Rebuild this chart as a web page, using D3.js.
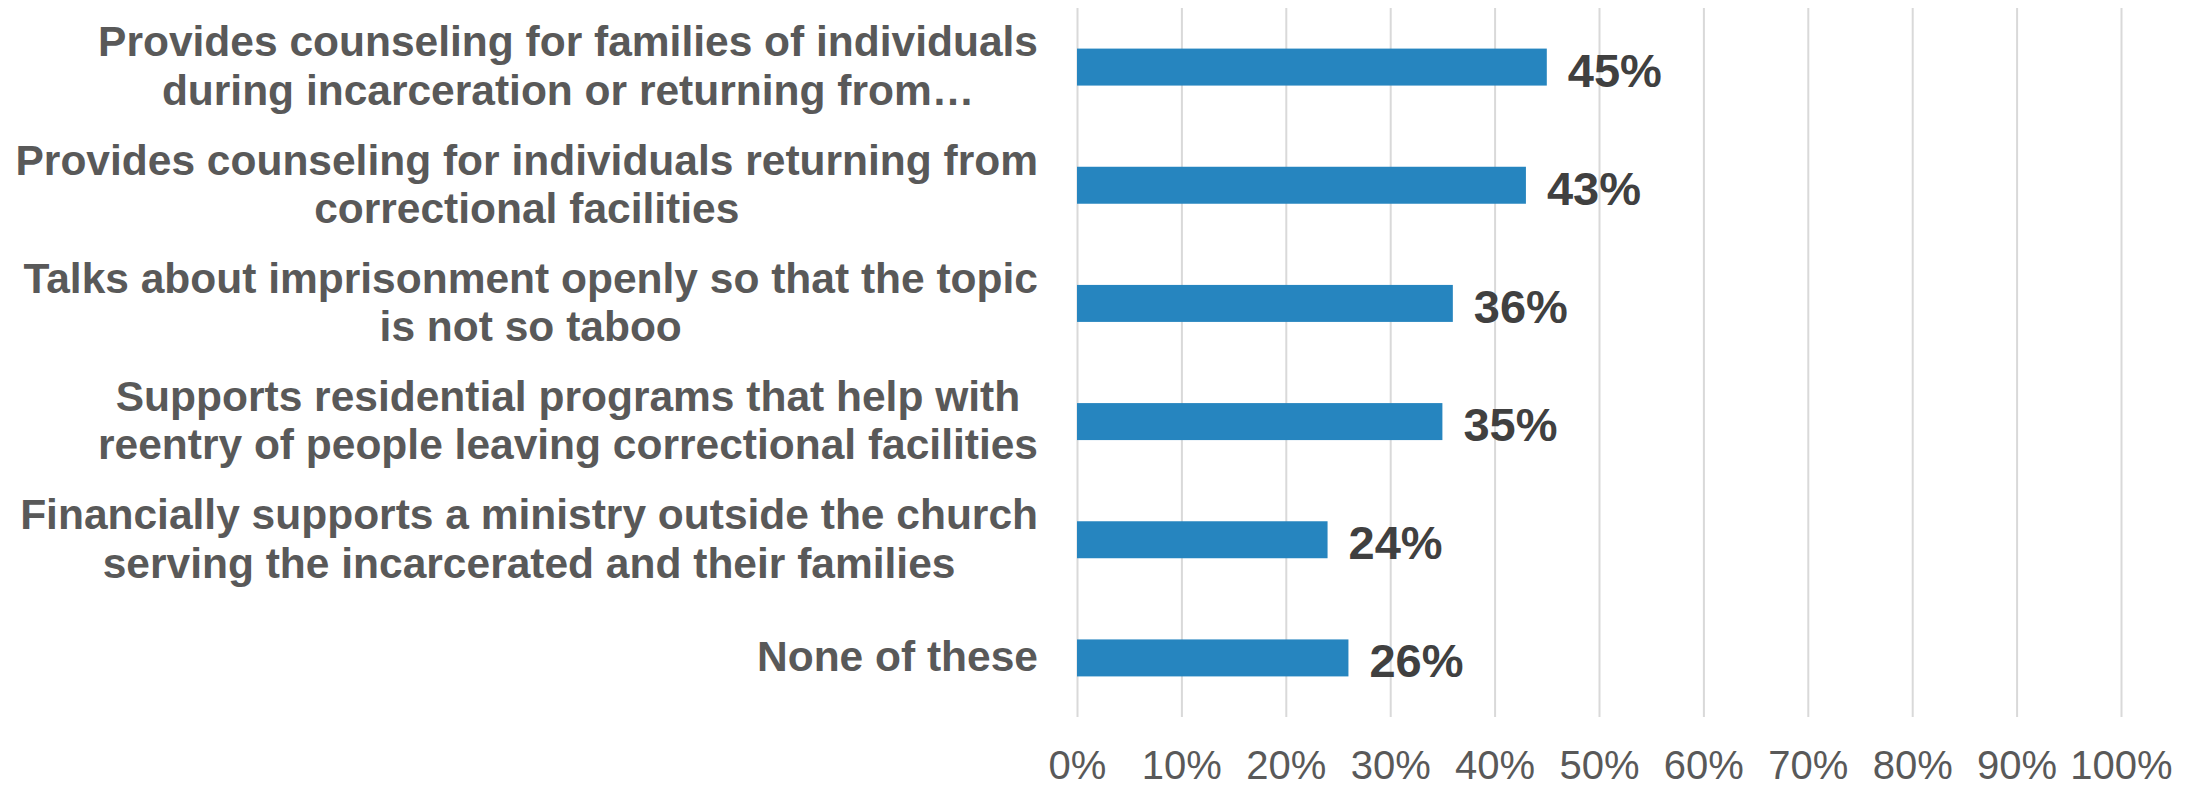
<!DOCTYPE html>
<html>
<head>
<meta charset="utf-8">
<script src="https://cdn.jsdelivr.net/npm/d3@7"></script>
<style>
  html, body { margin: 0; padding: 0; background: #ffffff; }
  svg { display: block; font-family: "Liberation Sans", Arial, sans-serif; }
</style>
</head>
<body>
<svg id="chart" width="2201" height="787"></svg>
<script>
// Survey responses: what the church does for people affected by incarceration
const categories = [
  "Provides counseling for families of individuals\nduring incarceration or returning from…",
  "Provides counseling for individuals returning from\ncorrectional facilities",
  "Talks about imprisonment openly so that the topic\nis not so taboo",
  "Supports residential programs that help with\nreentry of people leaving correctional facilities",
  "Financially supports a ministry outside the church\nserving the incarcerated and their families",
  "None of these"
];
const values = [45, 43, 36, 35, 24, 26];
const tickValues = [0, 10, 20, 30, 40, 50, 60, 70, 80, 90, 100];

const svg = d3.select("#chart");
const W = 2201, H = 787;
svg.append("rect").attr("width", W).attr("height", H).attr("fill", "#ffffff");

const plot = { left: 1077, right: 2121, top: 8, bottom: 717 };

const x = d3.scaleLinear().domain([0, 100]).range([plot.left, plot.right]);
const y = d3.scaleBand()
  .domain(categories)
  .range([plot.top, plot.bottom])
  .paddingInner(0.687)
  .paddingOuter(0.3435);

// Vertical gridlines and percentage tick labels
const axis = d3.axisBottom(x)
  .tickValues(tickValues)
  .tickFormat(d => d + "%")
  .tickSizeInner(-(plot.bottom - plot.top))
  .tickSizeOuter(0);

const gAxis = svg.append("g")
  .attr("transform", `translate(0,${plot.bottom})`)
  .call(axis);
gAxis.select(".domain").remove();
gAxis.selectAll(".tick line")
  .attr("stroke", "#d9d9d9")
  .attr("stroke-width", 2);
gAxis.selectAll(".tick text")
  .attr("y", 62)
  .attr("dy", 0)
  .attr("fill", "#595959")
  .attr("font-size", 40)
  .attr("font-family", "'Liberation Sans', Arial, sans-serif");

// Bars
svg.append("g").selectAll("rect")
  .data(categories)
  .join("rect")
  .attr("x", x(0))
  .attr("y", d => y(d))
  .attr("width", (d, i) => x(values[i]) - x(0))
  .attr("height", y.bandwidth())
  .attr("fill", "#2685bf");

// Value labels
svg.append("g").selectAll("text")
  .data(categories)
  .join("text")
  .attr("x", (d, i) => x(values[i]) + 21)
  .attr("y", d => y(d) + y.bandwidth() / 2 + 19.5)
  .attr("fill", "#404040")
  .attr("font-size", 47)
  .attr("font-weight", "bold")
  .text((d, i) => values[i] + "%");

// Category labels: block right-aligned to the plot, lines centered within the block
const labelRight = 1038;
const lineGap = 48.5;
const gLabels = svg.append("g");
categories.forEach(cat => {
  const lines = cat.split("\n");
  const cy = y(cat) + y.bandwidth() / 2;
  const t = gLabels.append("text")
    .attr("fill", "#595959")
    .attr("font-size", 42.5)
    .attr("font-weight", "bold");
  const spans = lines.map((ln, i) =>
    t.append("tspan")
      .attr("y", cy + (i - (lines.length - 1) / 2) * lineGap + 13.5)
      .text(ln)
  );
  const widths = spans.map(s => s.node().getComputedTextLength());
  const maxW = d3.max(widths);
  const mid = labelRight - maxW / 2;
  spans.forEach(s => s.attr("x", mid).attr("text-anchor", "middle"));
});
</script>
</body>
</html>
